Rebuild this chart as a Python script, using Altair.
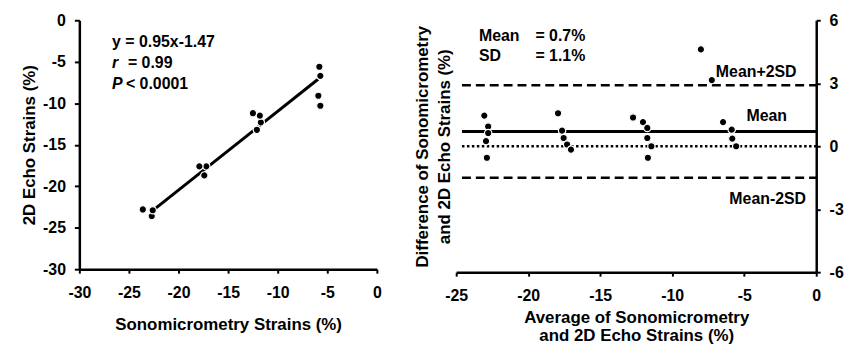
import altair as alt
import pandas as pd

# ---- data ----
sono = [-22.7, -23.6, -22.6, -17.4, -17.2, -17.9, -12.1, -11.7, -11.8, -12.5, -5.7, -5.9, -5.7, -5.8]
echo = [-23.6, -22.8, -22.9, -18.7, -17.6, -17.6, -13.2, -12.3, -11.5, -11.2, -10.3, -9.1, -6.7, -5.6]

avg = [-23.05, -22.78, -22.78, -22.93, -22.87,
       -17.93, -17.65, -17.54, -17.30, -17.03,
       -12.72, -12.03, -11.73, -11.73, -11.45, -11.69,
       -8.01, -7.25, -6.47, -5.87, -5.83, -5.56]
diff = [1.46, 0.94, 0.63, 0.24, -0.55,
        1.57, 0.74, 0.39, 0.08, -0.16,
        1.37, 1.15, 0.87, 0.39, 0.00, -0.55,
        4.61, 3.15, 1.15, 0.79, 0.36, 0.00]

slope, intercept = 0.95, -1.47
fit_x = [-22.8, -5.9]
mean_diff = 0.7
sd_diff = 1.1
ref_x = [-24.6, 0]

left_ticks = [-30, -25, -20, -15, -10, -5, 0]
right_x_ticks = [-25, -20, -15, -10, -5, 0]
right_y_ticks = [-6, -3, 0, 3, 6]

FONT = "Liberation Sans"
FS = 16    # tick labels and annotations
TFS = 17   # axis titles

left_df = pd.DataFrame({"x": sono, "y": echo})
fit_df = pd.DataFrame({"x": fit_x, "y": [slope * v + intercept for v in fit_x]})
right_df = pd.DataFrame({"x": avg, "y": diff})
ref_df = pd.DataFrame({
    "x": [ref_x[0]] * 3, "x2": [ref_x[1]] * 3,
    "y": [mean_diff, mean_diff + 2 * sd_diff, mean_diff - 2 * sd_diff],
    "kind": ["mean", "upper", "lower"],
})
zero_df = pd.DataFrame({"x": [ref_x[0]], "x2": [ref_x[1]], "y": [0]})

ann_left = pd.DataFrame({
    "x": [-26.7, -26.7, -25.1, -26.7, -25.3],
    "y": [-2.66, -5.17, -5.17, -7.67, -7.67],
    "t": ["y = 0.95x-1.47", "r", "= 0.99", "P", "< 0.0001"],
    "it": [False, True, False, True, False],
})
ann_right_l = pd.DataFrame({
    "x": [-23.42, -19.5, -23.42, -19.5],
    "y": [5.24, 5.24, 4.30, 4.30],
    "t": ["Mean", "= 0.7%", "SD", "= 1.1%"],
})
ann_right_c = pd.DataFrame({
    "x": [-4.17, -3.44, -3.37],
    "y": [3.54, 1.42, -2.5],
    "t": ["Mean+2SD", "Mean", "Mean-2SD"],
})

ax = dict(domainColor="black", domainWidth=2.5, tickColor="black", tickWidth=2,
          labelFont=FONT, labelFontSize=FS, labelFontWeight="bold", labelColor="black",
          titleFont=FONT, titleFontSize=TFS, titleFontWeight="bold", titleColor="black",
          grid=False, labelFlush=False, labelOverlap=False,
          labelExpr="toString(datum.value)")

# ---- left panel ----
LW, LH = 300, 251
lx = alt.X("x:Q", scale=alt.Scale(domain=[-30, 0], nice=False, zero=False),
           axis=alt.Axis(values=left_ticks, tickSize=4, labelPadding=12,
                         title="Sonomicrometry Strains (%)", titleY=48, **ax))
ly = alt.Y("y:Q", scale=alt.Scale(domain=[-30, 0], nice=False, zero=False),
           axis=alt.Axis(values=left_ticks, tickSize=5, labelPadding=9,
                         title="2D Echo Strains (%)", titleX=-50, titleAngle=270,
                         titleBaseline="middle", **ax))

fit = alt.Chart(fit_df).mark_line(color="black", strokeWidth=3).encode(x=lx, y=ly)
pts_l = alt.Chart(left_df).mark_point(filled=True, color="black", size=55, stroke="white",
                                      strokeWidth=1.2, opacity=1).encode(x=lx, y=ly)
txt_l_n = alt.Chart(ann_left[~ann_left.it]).mark_text(
    font=FONT, fontSize=FS, fontWeight="bold", align="left", baseline="middle", color="black"
).encode(x=lx, y=ly, text="t:N")
txt_l_i = alt.Chart(ann_left[ann_left.it]).mark_text(
    font=FONT, fontSize=FS, fontWeight="bold", fontStyle="italic", align="left",
    baseline="middle", color="black"
).encode(x=lx, y=ly, text="t:N")

left = alt.layer(fit, pts_l, txt_l_n, txt_l_i).properties(width=LW, height=LH)

# ---- right panel ----
RW, RH = 363, 254
rx = alt.X("x:Q", scale=alt.Scale(domain=[-25, 0], nice=False, zero=False),
           axis=alt.Axis(values=right_x_ticks, tickSize=4, labelPadding=12,
                         title=["Average of Sonomicrometry", "and 2D Echo Strains (%)"],
                         titleY=38, titleLineHeight=18, **ax))
ry = alt.Y("y:Q", scale=alt.Scale(domain=[-6, 6], nice=False, zero=False),
           axis=alt.Axis(values=right_y_ticks, orient="right", tickSize=4, labelPadding=9,
                         title=["Difference of Sonomicrometry", "and 2D Echo Strains (%)"],
                         titleX=-397, titleY=RH / 2, titleAngle=270, titleBaseline="middle",
                         titleLineHeight=22, **ax))

mean_rule = alt.Chart(ref_df[ref_df.kind == "mean"]).mark_rule(
    color="black", strokeWidth=3).encode(x=rx, x2="x2:Q", y=ry)
sd_rules = alt.Chart(ref_df[ref_df.kind != "mean"]).mark_rule(
    color="black", strokeWidth=2.5, strokeDash=[9, 5]).encode(x=rx, x2="x2:Q", y=ry)
zero_rule = alt.Chart(zero_df).mark_rule(
    color="black", strokeWidth=2.5, strokeDash=[2.5, 2.5]).encode(x=rx, x2="x2:Q", y=ry)
pts_r = alt.Chart(right_df).mark_point(filled=True, color="black", size=55, stroke="white",
                                       strokeWidth=1.2, opacity=1).encode(x=rx, y=ry)
txt_r_l = alt.Chart(ann_right_l).mark_text(
    font=FONT, fontSize=FS, fontWeight="bold", align="left", baseline="middle", color="black"
).encode(x=rx, y=ry, text="t:N")
txt_r_c = alt.Chart(ann_right_c).mark_text(
    font=FONT, fontSize=FS, fontWeight="bold", align="center", baseline="middle", color="black"
).encode(x=rx, y=ry, text="t:N")

right = alt.layer(mean_rule, sd_rules, zero_rule, pts_r, txt_r_l, txt_r_c).properties(
    width=RW, height=RH)

chart = alt.hconcat(left, right, spacing=32).properties(
    padding={"left": 21, "top": 11, "right": 0, "bottom": 0}
).configure_view(stroke=None)

chart.save("out.html", embed_options={"renderer": "svg", "actions": False})
